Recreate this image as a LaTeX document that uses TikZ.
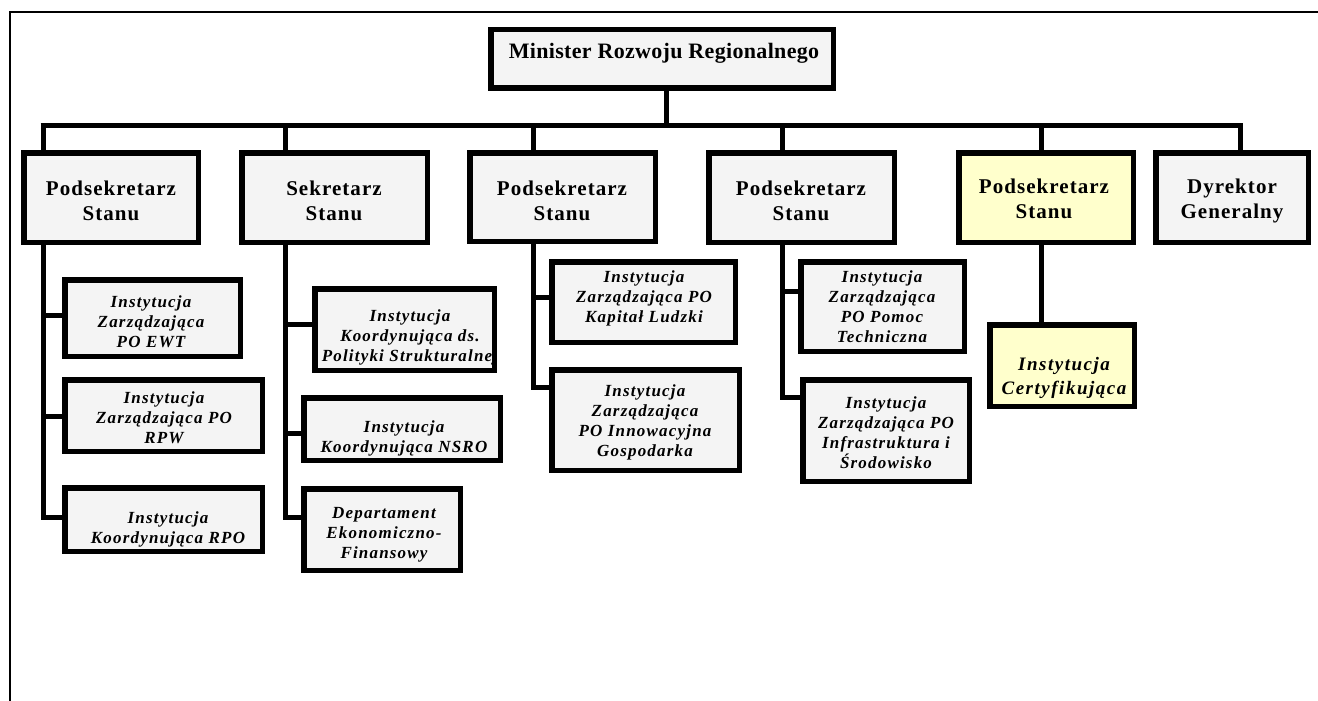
\documentclass[tikz,border=0pt]{standalone}
\usepackage{fontspec}
\setmainfont{Liberation Serif}
\newfontfamily\mfont{Liberation Serif}[LetterSpace=1.5]
\newfontfamily\lfont{Liberation Serif}[LetterSpace=5]
\newfontfamily\cfont{Liberation Serif}[LetterSpace=7]
\newfontfamily\certfont{Liberation Serif}[LetterSpace=8]
\definecolor{boxgray}{HTML}{F4F4F4}
\definecolor{boxyellow}{HTML}{FFFFCC}
\tikzset{
  box/.style={draw=black, line width=5.5pt, fill=boxgray, rectangle, inner sep=0pt, outer sep=0pt},
  ybox/.style={box, fill=boxyellow},
  wire/.style={line width=5pt, line join=miter},
  mtext/.style={font=\mfont\bfseries\fontsize{22}{26}\selectfont, align=center, inner sep=0pt},
  ltext/.style={font=\lfont\bfseries\fontsize{21}{25}\selectfont, align=center, inner sep=0pt},
  ctext/.style={font=\cfont\bfseries\itshape\fontsize{17}{20}\selectfont, align=center, inner sep=0pt},
  certtext/.style={font=\certfont\bfseries\itshape\fontsize{19}{24}\selectfont, align=center, inner sep=0pt},
}
% box from outer edges: x1,x2,y1,y2
\newcommand{\obox}[6]{%
  \node[#1, minimum width={#4-#3-5.5pt}, minimum height={#6-#5-5.5pt}] (#2) at ({(#3+#4)/2},{(#5+#6)/2}) {};}
\begin{document}
\begin{tikzpicture}[x=1pt, y=-1pt]
\useasboundingbox (0,0) rectangle (1318,701);
\fill[white] (0,0) rectangle (1318,701);
% frame
\draw[line width=2.5pt] (10,701) -- (10,12) -- (1318,12);

% coordinates of the bus and drops
\coordinate (busL) at (40.5,125);
\coordinate (busR) at (1242.5,125);
\coordinate (d1) at (43,125);
\coordinate (d2) at (285,125);
\coordinate (d3) at (533,125);
\coordinate (d4) at (782,125);
\coordinate (d5) at (1041,125);
\coordinate (d6) at (1240,125);
\coordinate (dm) at (666,125);

% connectors first
\draw[wire] (busL) -- (busR);
\draw[wire] (dm) -- (666,91);
\foreach \d in {d1,d2,d3,d4,d5,d6} \draw[wire] (\d) -- ++(0,27);

% level 1
\obox{box}{M}{488}{836}{27}{91}
\node[mtext] (Mt) at (664,53) {Minister Rozwoju Regionalnego};

% level 2
\obox{box}{L1}{21}{201}{150}{245}
\obox{box}{L2}{239}{430}{150}{245}
\obox{box}{L3}{467}{658}{150}{244}
\obox{box}{L4}{706}{897}{150}{245}
\obox{ybox}{L5}{956}{1136}{150}{245}
\obox{box}{L6}{1153}{1311}{150}{245}
\node[ltext] (L1t) at (111,201) {Podsekretarz\\Stanu};
\node[ltext] (L2t) at (334,201) {Sekretarz\\Stanu};
\node[ltext] (L3t) at (562,201) {Podsekretarz\\Stanu};
\node[ltext] (L4t) at (801,201) {Podsekretarz\\Stanu};
\node[ltext] (L5t) at (1044,199) {Podsekretarz\\Stanu};
\node[ltext] (L6t) at (1232,201) {Dyrektor\\Generalny};

% children
\obox{box}{c11}{62}{243}{277}{359}
\obox{box}{c12}{62}{265}{377}{454}
\obox{box}{c13}{62}{265}{485}{554}
\obox{box}{c21}{312}{497}{286}{373}
\obox{box}{c22}{301}{503}{395}{463}
\obox{box}{c23}{301}{463}{486}{573}
\obox{box}{c31}{549}{738}{259}{345}
\obox{box}{c32}{549}{742}{367}{473}
\obox{box}{c41}{798}{967}{259}{354}
\obox{box}{c42}{800}{972}{377}{484}
\obox{ybox}{c51}{987}{1137}{322}{409}

% branch points
\coordinate (b11) at (43,315);
\coordinate (b12) at (43,416);
\coordinate (b13) at (43,517);
\coordinate (b21) at (285,324);
\coordinate (b22) at (285,433);
\coordinate (b23) at (285,517);
\coordinate (b31) at (533,297);
\coordinate (b32) at (533,387);
\coordinate (b41) at (782,291);
\coordinate (b42) at (782,397);

\draw[wire] (d1 |- L1.south) -- (b13) -- (b13 -| c13.west);
\draw[wire] (b11) -- (b11 -| c11.west);
\draw[wire] (b12) -- (b12 -| c12.west);
\draw[wire] (d2 |- L2.south) -- (b23) -- (b23 -| c23.west);
\draw[wire] (b21) -- (b21 -| c21.west);
\draw[wire] (b22) -- (b22 -| c22.west);
\draw[wire] (d3 |- L3.south) -- (b32) -- (b32 -| c32.west);
\draw[wire] (b31) -- (b31 -| c31.west);
\draw[wire] (d4 |- L4.south) -- (b42) -- (b42 -| c42.west);
\draw[wire] (b41) -- (b41 -| c41.west);
\draw[wire] (d5 |- L5.south) -- (d5 |- c51.north);

% child texts
\node[ctext] (c11t) at (151,322) {Instytucja\\Zarządzająca\\PO EWT};
\node[ctext] (c12t) at (164,418) {Instytucja\\Zarządzająca PO\\RPW};
\node[ctext] (c13t) at (168,529) {Instytucja\\Koordynująca RPO};
\begin{scope}
  \clip (315,289) rectangle (494,370);
  \node[ctext] (c21t) at (410,337) {Instytucja\\Koordynująca ds.\\Polityki Strukturalnej};
\end{scope}
\node[ctext] (c22t) at (404,438) {Instytucja\\Koordynująca NSRO};
\node[ctext] (c23t) at (384,535) {Departament\\Ekonomiczno-\\Finansowy};
\node[ctext] (c31t) at (644,298) {Instytucja\\Zarządzająca PO\\Kapitał Ludzki};
\node[ctext] (c32t) at (645,422) {Instytucja\\Zarządzająca\\PO Innowacyjna\\Gospodarka};
\node[ctext] (c41t) at (882,307) {Instytucja\\Zarządzająca\\PO Pomoc\\Techniczna};
\node[ctext] (c42t) at (886,433) {Instytucja\\Zarządzająca PO\\Infrastruktura i\\Środowisko};
\node[certtext] (c51t) at (1064,378) {Instytucja\\Certyfikująca};
\end{tikzpicture}
\end{document}
